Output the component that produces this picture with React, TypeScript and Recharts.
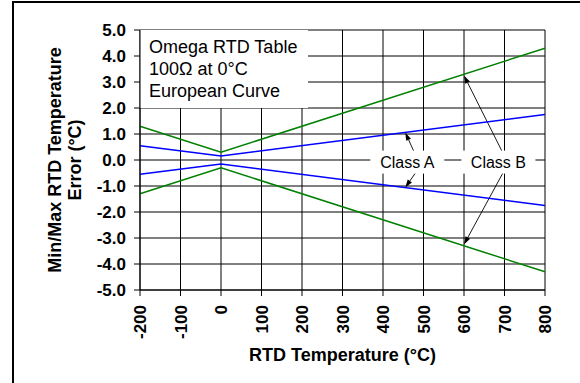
import React from 'react';
import { LineChart, Line, XAxis, YAxis, CartesianGrid, ReferenceArea, ReferenceLine, ReferenceDot } from 'recharts';

const temps = [-200, 0, 800];
const classAUpper = [0.55, 0.15, 1.75];
const classALower = [-0.55, -0.15, -1.75];
const classBUpper = [1.3, 0.3, 4.3];
const classBLower = [-1.3, -0.3, -4.3];

const xTicks = [-200, -100, 0, 100, 200, 300, 400, 500, 600, 700, 800];
const yTicks = [-5, -4, -3, -2, -1, 0, 1, 2, 3, 4, 5];

const infoLines = ['Omega RTD Table', '100\u03A9 at 0\u00B0C', 'European Curve'];
const infoBox = { x1: -200, x2: 215, y1: 2, y2: 5 };

const classLabels = [
  { name: 'Class A', t: 460, v: -0.1 },
  { name: 'Class B', t: 685, v: -0.1 },
];

const arrows = [
  { from: { x: 480, y: 0.2 }, to: { x: 455, y: 1.06 } },
  { from: { x: 480, y: -0.5 }, to: { x: 455, y: -1.06 } },
  { from: { x: 696, y: 0.27 }, to: { x: 600, y: 3.25 } },
  { from: { x: 696, y: -0.5 }, to: { x: 600, y: -3.25 } },
];

const data = temps.map((t, i) => ({
  t,
  aU: classAUpper[i],
  aL: classALower[i],
  bU: classBUpper[i],
  bL: classBLower[i],
}));

const FONT = '"Liberation Sans", Arial, Helvetica, sans-serif';

const XTick = (props: any) => {
  const { x, y, payload } = props;
  return (
    <text
      x={x}
      y={y}
      transform={`rotate(-90, ${x}, ${y})`}
      textAnchor="end"
      dy="0.36em"
      fontFamily={FONT}
      fontWeight="bold"
      fontSize={17}
      fill="#000"
    >
      {payload.value}
    </text>
  );
};

const Arrow = (props: any) => {
  const { x1, y1, x2, y2 } = props;
  if ([x1, y1, x2, y2].some((v) => typeof v !== 'number' || isNaN(v))) return null;
  const ang = Math.atan2(y2 - y1, x2 - x1);
  const len = 8;
  const w = 2.6;
  const bx = x2 - len * Math.cos(ang);
  const by = y2 - len * Math.sin(ang);
  const px = -Math.sin(ang) * w;
  const py = Math.cos(ang) * w;
  return (
    <g>
      <line x1={x1} y1={y1} x2={bx} y2={by} stroke="#000" strokeWidth={0.9} />
      <polygon points={`${x2},${y2} ${bx + px},${by + py} ${bx - px},${by - py}`} fill="#000" />
    </g>
  );
};

const makeClassLabel = (name: string) => (props: any) => {
  const { cx, cy } = props;
  if (typeof cx !== 'number' || typeof cy !== 'number') return null;
  return (
    <g>
      <rect x={cx - 37} y={cy - 12} width={74} height={23} fill="#fff" />
      <text x={cx} y={cy} dy="0.36em" textAnchor="middle" fontFamily={FONT} fontSize={16} fill="#000">
        {name}
      </text>
    </g>
  );
};

const InfoLabel = (props: any) => {
  const vb = props.viewBox || {};
  const x = (vb.x ?? 0) + 9;
  const y = vb.y ?? 0;
  return (
    <text fontFamily={FONT} fontSize={18} fill="#000">
      {infoLines.map((l, i) => (
        <tspan key={i} x={x} y={y + 22.5 + i * 22}>
          {l}
        </tspan>
      ))}
    </text>
  );
};

const XTitle = (props: any) => {
  const vb = props.viewBox || {};
  return (
    <text
      x={vb.x + vb.width / 2}
      y={vb.y + 71}
      textAnchor="middle"
      fontFamily={FONT}
      fontWeight="bold"
      fontSize={18}
      fill="#000"
    >
      RTD Temperature (°C)
    </text>
  );
};

const YTitle = (props: any) => {
  const vb = props.viewBox || {};
  const cy = vb.y + vb.height / 2;
  const lines = ['Min/Max RTD Temperature', 'Error (°C)'];
  return (
    <g>
      {lines.map((l, i) => {
        const cx = vb.x + 55 + i * 20;
        return (
          <text
            key={i}
            x={cx}
            y={cy}
            transform={`rotate(-90, ${cx}, ${cy})`}
            textAnchor="middle"
            dy="0.36em"
            fontFamily={FONT}
            fontWeight="bold"
            fontSize={18}
            fill="#000"
          >
            {l}
          </text>
        );
      })}
    </g>
  );
};

export default function App() {
  return (
    <div style={{ position: 'absolute', left: 0, top: 0, width: 580, height: 383, overflow: 'hidden', background: '#fff' }}>
      <div
        style={{
          position: 'absolute',
          left: 12,
          top: 1,
          width: 600,
          height: 400,
          borderTop: '2px solid #000',
          borderLeft: '2px solid #000',
        }}
      />
      <div style={{ position: 'absolute', left: 0, top: 0 }}>
        <LineChart width={580} height={383} data={data} margin={{ top: 30, right: 35, left: 0, bottom: 0 }}>
          <CartesianGrid stroke="#000" strokeWidth={1} horizontalValues={yTicks} verticalValues={xTicks} />
          <XAxis
            dataKey="t"
            type="number"
            domain={[-200, 800]}
            ticks={xTicks}
            interval={0}
            height={93}
            tickSize={6}
            tickMargin={9}
            stroke="#000"
            axisLine={{ stroke: '#000' }}
            tickLine={{ stroke: '#000' }}
            tick={<XTick />}
            label={<XTitle />}
          />
          <YAxis
            type="number"
            domain={[-5, 5]}
            ticks={yTicks}
            interval={0}
            width={140}
            tickSize={6}
            tickMargin={8}
            axisLine={{ stroke: '#000' }}
            tickLine={{ stroke: '#000' }}
            tickFormatter={(v: number) => v.toFixed(1)}
            tick={{ fontFamily: FONT, fontWeight: 'bold', fontSize: 17, fill: '#000' }}
            label={<YTitle />}
          />
          <ReferenceArea
            x1={infoBox.x1}
            x2={infoBox.x2}
            y1={infoBox.y1}
            y2={infoBox.y2}
            fill="#fff"
            fillOpacity={1}
            stroke="none"
            ifOverflow="visible"
            label={<InfoLabel />}
          />
          {classLabels.map((c) => (
            <ReferenceDot key={c.name} x={c.t} y={c.v} r={1} shape={makeClassLabel(c.name)} ifOverflow="visible" />
          ))}
          {arrows.map((a, i) => (
            <ReferenceLine key={i} segment={[a.from, a.to]} shape={Arrow} ifOverflow="visible" />
          ))}
          <Line dataKey="bU" stroke="#008000" strokeWidth={1.5} dot={false} isAnimationActive={false} />
          <Line dataKey="bL" stroke="#008000" strokeWidth={1.5} dot={false} isAnimationActive={false} />
          <Line dataKey="aU" stroke="#0000ff" strokeWidth={1.5} dot={false} isAnimationActive={false} />
          <Line dataKey="aL" stroke="#0000ff" strokeWidth={1.5} dot={false} isAnimationActive={false} />
        </LineChart>
      </div>
    </div>
  );
}
